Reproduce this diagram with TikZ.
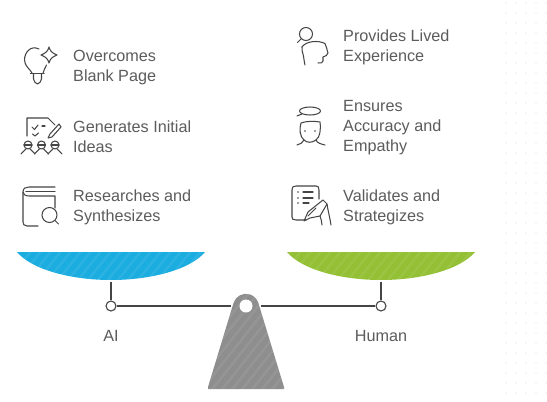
\documentclass[tikz,border=0pt]{standalone}
\usepackage{fontspec}
\setmainfont{Liberation Sans}
\definecolor{txt}{HTML}{5C5C5C}
\definecolor{ink}{HTML}{454545}
\definecolor{bluep}{HTML}{1CADE0}
\definecolor{greenp}{HTML}{93C034}
\definecolor{grayp}{HTML}{8E8E8E}
\begin{document}
\begin{tikzpicture}[x=1pt,y=-1pt,
  lbl/.style={anchor=west,inner sep=0pt,align=left,text=txt,font=\fontsize{16.2}{20}\selectfont},
  caplbl/.style={anchor=center,inner sep=0pt,text=txt,font=\fontsize{16.2}{20}\selectfont},
  ico/.style={draw=ink,line width=1.05pt,line cap=round,line join=round},
  pinc/.style={circle,draw=ink,fill=white,line width=1.1pt,minimum size=10pt,inner sep=0pt},
  rod/.style={draw=ink,line width=1.3pt},
  stripe/.style={line width=2.5pt,white,opacity=0.07}]
\useasboundingbox (0,0) rectangle (547,402);
\fill[white] (0,0) rectangle (547,402);
% faint dot grid
\foreach \x in {506,516,526,536,546}
  \foreach \y in {3,13,...,393}
    \fill[black!7] (\x,\y) circle (0.9pt);
% labels
\node[lbl] (t1) at (73,67.5) {Overcomes\\Blank Page};
\node[lbl] (t2) at (73,137) {Generates Initial\\Ideas};
\node[lbl] (t3) at (73,207.5) {Researches and\\Synthesizes};
\node[lbl] (t4) at (343,47.5) {Provides Lived\\Experience};
\node[lbl] (t5) at (343,127.5) {Ensures\\Accuracy and\\Empathy};
\node[lbl] (t6) at (343,207.5) {Validates and\\Strategizes};
\node[caplbl] (ai) at (111,336) {AI};
\node[caplbl] (hu) at (381,336) {Human};
% bowls
\begin{scope}
\clip (17,252) -- (205,252) .. controls (190,270) and (150,280) .. (111,280) .. controls (72,280) and (32,270) .. (17,252) -- cycle;
\fill[bluep] (0,240) rectangle (220,290);
\foreach \s in {0,10,...,280} \draw[stripe] (\s,290) -- (\s+40,240);
\end{scope}
\begin{scope}
\clip (287,252) -- (475,252) .. controls (460,270) and (420,280) .. (381,280) .. controls (342,280) and (302,270) .. (287,252) -- cycle;
\fill[greenp] (270,240) rectangle (490,290);
\foreach \s in {260,270,...,490} \draw[stripe] (\s,290) -- (\s+40,240);
\end{scope}
% fulcrum
\begin{scope}
\clip (208,387) -- (233.5,303) arc[start angle=197,end angle=343,radius=13,y=-1pt] -- (284,387) -- (284,389) -- (208,389) -- cycle;
\fill[grayp] (200,285) rectangle (295,392);
\foreach \s in {150,160,...,300} \draw[stripe] (\s,392) -- (\s+85,285);
\end{scope}
\fill[white] (246,306) circle (6.5pt);
% beam and pins
\node[pinc] (pl) at (111,306) {};
\node[pinc] (pr) at (381,306) {};
\coordinate (bl) at (111,282);
\coordinate (br) at (381,282);
\coordinate (fl) at (231,306);
\coordinate (fr) at (261,306);
\draw[rod] (bl) -- (pl);
\draw[rod] (br) -- (pr);
\draw[rod] (pl) -- (fl);
\draw[rod] (pr) -- (fr);
% icon 1: bulb and sparkle
\draw[ico] (39,49) .. controls (31,45) and (24.5,52) .. (24.5,60) .. controls (24.5,66) and (30,69) .. (32,73);
\draw[ico] (46.5,65) .. controls (45,68) and (44,70) .. (43,73);
\draw[ico] (30.5,73.5) -- (44,73.5);
\draw[ico] (33.5,74) -- (33.5,79) .. controls (33.5,82) and (36,83) .. (37.5,84) .. controls (39,83) and (41.5,82) .. (41.5,79) -- (41.5,74);
\draw[ico] (49,47) .. controls (50,51) and (52,53) .. (57,55) .. controls (52,57) and (50,59) .. (49,63) .. controls (48,59) and (46,57) .. (41,55) .. controls (46,53) and (48,51) .. (49,47) -- cycle;
% icon 2: checklist and people
\draw[ico] (27,136) -- (27,118) -- (48,118) -- (55,125);
\draw[ico] (32,127) -- (34.5,129.5) -- (38,125);
\draw[ico] (42,126) -- (45,126);
\draw[ico] (32.5,134) -- (35,136) -- (38.5,133);
\draw[ico] (59,124) -- (50,134) -- (48,138) -- (52,137) -- (61,127) -- cycle;
\foreach \c in {28,41.5,55} {
  \draw[ico] (\c,145) circle (4pt);
  \draw[ico] (\c-4,145) -- (\c+4,145);
  \draw[ico] (\c-7,154) .. controls (\c-5,151.5) and (\c-3,150) .. (\c-2,149) (\c+2,149) .. controls (\c+3,150) and (\c+5,151.5) .. (\c+7,154);
}
% icon 3: book and magnifier
\draw[ico] (38,226) -- (27,226) .. controls (24,226) and (23,224) .. (23,222) -- (23,192) .. controls (23,188) and (26,187) .. (29,187) -- (55,187);
\draw[ico] (23,192) .. controls (23,194) and (25,196) .. (29,196) -- (55,196) -- (55,208);
\draw[ico] (26,191.5) -- (55,191.5);
\draw[ico] (49.5,215) circle (7.5pt);
\draw[ico] (55,220.5) -- (58.5,224);
% icon 4: head with magnifier
\draw[ico] (306,34) circle (6.5pt);
\draw[ico] (301,39) -- (297.5,42.5);
\draw[ico] (302,47) .. controls (306,41) and (318,40) .. (325,43.5) .. controls (327,47) and (326.5,49) .. (328,53) .. controls (328,55) and (325,56.5) .. (323,57) -- (323,61) .. controls (323,63) and (321,63) .. (318,63);
\draw[ico] (302,47) .. controls (301,50) and (303,52) .. (303,54) .. controls (304,58) and (304,61) .. (305,65);
% icon 5: person with halo
\draw[ico] (310,111) ellipse (10.5pt and 4pt);
\draw[ico] (302,114) -- (297,116);
\draw[ico] (301,123) .. controls (306,121) and (314,121) .. (320,122) .. controls (321,130) and (320,137) .. (316,140) .. controls (312,143) and (307,143) .. (304,140) .. controls (300,137) and (299,129) .. (301,123) -- cycle;
\fill[ink] (305,131) circle (0.8pt) (315,131) circle (0.8pt);
\draw[ico] (304,140) .. controls (303,143) and (300,144) .. (297,145);
\draw[ico] (316,140) .. controls (317,143) and (321,144) .. (325,145);
% icon 6: document and hand
\draw[ico] (306,220) -- (296,220) .. controls (293,220) and (292,219) .. (292,217) -- (292,190) .. controls (292,187) and (293,186) .. (296,186) -- (316,186) .. controls (318,186) and (319,187) .. (319,190) -- (319,199);
\fill[ink] (298,192) circle (0.8pt) (298,198) circle (0.8pt) (298,203) circle (0.8pt);
\draw[ico] (303,192) -- (313,192);
\draw[ico] (303,198) -- (313,198);
\draw[ico] (303,203) -- (309,203);
\draw[ico] (304,221) -- (308,212) -- (323,200) -- (327,204) -- (320,216) -- (310,218) -- cycle;
\draw[ico] (308,216) -- (316,208);
\draw[ico] (327,204) .. controls (328,211) and (330,218) .. (331,225);
\draw[ico] (320,216) .. controls (321,219) and (322,222) .. (322,225);
\end{tikzpicture}
\end{document}
